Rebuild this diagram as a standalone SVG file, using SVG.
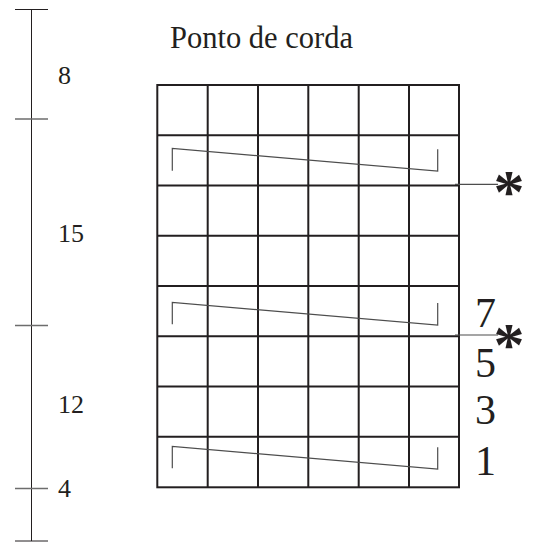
<svg xmlns="http://www.w3.org/2000/svg" width="533" height="542" viewBox="0 0 533 542">
<style>
.t{font-family:"Liberation Serif","Times New Roman",serif;fill:#231f20}
.a{font-family:"Liberation Serif","Times New Roman",serif;fill:#231f20;font-weight:bold;font-size:62px;text-anchor:middle}
.g{stroke:#231f20;stroke-width:2;fill:none}
.s{stroke:#231f20;stroke-width:1;fill:none}
.z{stroke:#4d4d4d;stroke-width:1.2;fill:none}
.k{stroke:#6d6d6d;stroke-width:1.3;fill:none}
</style>
<rect width="533" height="542" fill="#fff"/>
<g id="scale">
<line class="s" x1="31.5" y1="9" x2="31.5" y2="541"/>
<line class="s" x1="15" y1="9.5" x2="48" y2="9.5"/>
<line class="k" x1="15" y1="119" x2="48" y2="119"/>
<line class="k" x1="15" y1="325.5" x2="48" y2="325.5"/>
<line class="k" x1="15" y1="488.5" x2="48" y2="488.5"/>
<line class="s" x1="15" y1="541" x2="48" y2="541"/>
<text class="t" x="58" y="84" font-size="26">8</text>
<text class="t" x="58" y="242" font-size="26">15</text>
<text class="t" x="58" y="412.5" font-size="26">12</text>
<text class="t" x="58" y="497" font-size="26">4</text>
</g>
<text id="title" class="t" x="170" y="47.5" font-size="30.5">Ponto de corda</text>
<g id="grid">
<rect class="g" x="157.3" y="85" width="301.7" height="402.3"/>
<path class="g" d="M207.7 85V487.3M258 85V487.3M308.3 85V487.3M358.7 85V487.3M409 85V487.3M157.3 135.3H459M157.3 185.5H459M157.3 235.8H459M157.3 286H459M157.3 336.3H459M157.3 386.5H459M157.3 436.8H459"/>
</g>
<g id="rows">
<path class="z" d="M172.3 170.7V148.5L437.7 171V149.3"/>
<path class="z" d="M172.3 324.3V302.5L437.7 325V303"/>
<path class="z" d="M172.3 468.3V446.5L437.7 469V447.3"/>
</g>
<g id="connectors">
<line class="z" x1="455" y1="184.3" x2="498" y2="184.3"/>
<line class="z" x1="455" y1="335" x2="498" y2="335"/>
</g>
<g id="labels">
<text class="t" x="475" y="326.5" font-size="42">7</text>
<text class="t" x="475" y="377" font-size="42">5</text>
<text class="t" x="475" y="423.5" font-size="42">3</text>
<text class="t" x="475" y="475" font-size="42">1</text>
<text class="a" x="509" y="211.5">*</text>
<text class="a" x="509" y="365">*</text>
</g>
</svg>
